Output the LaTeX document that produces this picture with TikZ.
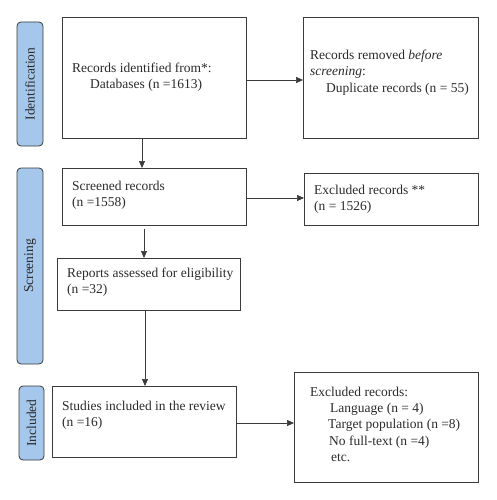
\documentclass[tikz,border=0pt]{standalone}
\usepackage{fontspec}
\setmainfont{Liberation Serif}
\usetikzlibrary{arrows.meta}
\definecolor{tabblue}{HTML}{A5C7EC}
\definecolor{linegray}{HTML}{3A3A3A}
\definecolor{txt}{HTML}{2A2A2A}
\begin{document}
\begin{tikzpicture}[x=1pt,y=-1pt,
  box/.style={draw=linegray,line width=0.8pt},
  tab/.style={draw=linegray,fill=tabblue,rounded corners=4pt,line width=0.8pt},
  lbl/.style={text=txt,font=\fontsize{13.5}{16.2}\selectfont,align=left,anchor=north west,inner sep=0pt},
  tablbl/.style={text=txt,font=\fontsize{13.5}{16}\selectfont,rotate=90,inner sep=0pt},
  arr/.style={draw=linegray,line width=0.7pt,-{Triangle[length=7pt,width=6pt]}}]
\useasboundingbox (0,0) rectangle (496,500);
% phase tabs
\draw[tab] (17,22) rectangle (43,146);
\node[tablbl] (tId) at (30,84) {Identification};
\draw[tab] (17,168) rectangle (43,364);
\node[tablbl] (tSc) at (30,266) {Screening};
\draw[tab] (19,386) rectangle (44,460);
\node[tablbl] (tIn) at (31.5,423) {Included};
% boxes
\node[box,minimum width=184pt,minimum height=121pt,anchor=north west] (b1) at (62,17) {};
\node[lbl] at (72,63) {Records identified from*:\\\hspace*{18pt}Databases (n =1613)};
\node[box,minimum width=175pt,minimum height=121pt,anchor=north west] (r1) at (303,17) {};
\node[lbl] at (310,50) {Records removed \textit{before}\\\textit{screening}:\\\hspace*{16pt}Duplicate records (n = 55)};
\node[box,minimum width=184pt,minimum height=57pt,anchor=north west] (b2) at (62,168) {};
\node[lbl] at (72,181) {Screened records\\(n =1558)};
\node[box,minimum width=174pt,minimum height=52pt,anchor=north west] (r2) at (304,173) {};
\node[lbl] at (314,185) {Excluded records **\\(n = 1526)};
\node[box,minimum width=183pt,minimum height=52pt,anchor=north west] (b3) at (57,258) {};
\node[lbl] at (67,268) {Reports assessed for eligibility\\(n =32)};
\node[box,minimum width=184pt,minimum height=71pt,anchor=north west] (b4) at (52,386) {};
\node[lbl] at (62,401) {Studies included in the review\\(n =16)};
\node[box,minimum width=184pt,minimum height=110pt,anchor=north west] (r4) at (294,372) {};
\node[lbl] at (310,387) {Excluded records:\\\hspace*{20pt}Language (n = 4)\\\hspace*{18pt}Target population (n =8)\\\hspace*{19pt}No full-text (n =4)\\\hspace*{21pt}etc.};
% connectors
\draw[arr] (b1.south -| 142,0) -- (b2.north -| 142,0);
\draw[arr] (b1.east |- 0,80) -- (r1.west |- 0,80);
\draw[arr] (b2.east |- 0,198) -- (r2.west |- 0,198);
\draw[arr] (b2.south -| 144,0) ++(0,3) -- (b3.north -| 144,0);
\draw[arr] (b3.south -| 145,0) -- (b4.north -| 145,0);
\draw[arr] (b4.east |- 0,423) -- (r4.west |- 0,423);
\end{tikzpicture}
\end{document}
